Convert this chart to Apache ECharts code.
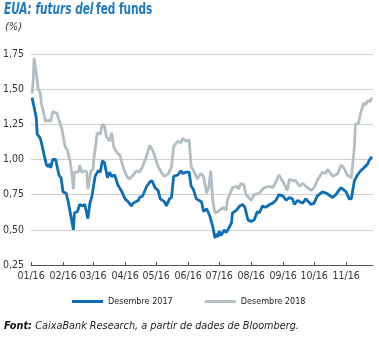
<!DOCTYPE html>
<html><head><meta charset="utf-8">
<script src="https://cdn.jsdelivr.net/npm/echarts@6/dist/echarts.min.js"></script>
<style>html,body{margin:0;padding:0;background:#fff}#c{width:379px;height:338px}</style>
</head><body><div id="c"></div>
<script>
// Month tick positions (day of year 2016) and labels
const monthDays = [0, 31, 60, 91, 121, 152, 182, 213, 244, 274, 305];
const monthLabels = ['01/16','02/16','03/16','04/16','05/16','06/16','07/16','08/16','09/16','10/16','11/16'];
const yTicks = [0.25, 0.50, 0.75, 1.00, 1.25, 1.50, 1.75];

// Desembre 2017 contract
const days2017 = [1,2,5,6,9,11,13,15,17,18,19,21,24,25,27,29,31,34,36,38,41,42,45,47,50,52,55,57,59,62,65,67,69,71,74,76,78,81,84,88,91,94,97,99,104,105,108,112,115,117,120,123,125,129,131,134,136,138,142,145,147,150,153,155,157,160,165,167,170,173,176,178,179,181,182,184,187,189,192,194,195,199,202,205,207,208,210,213,216,219,221,224,227,231,234,237,240,244,247,250,253,255,258,260,263,266,271,274,277,282,286,292,295,300,305,308,310,313,316,319,322,326,327,330];
const vals2017 = [1.44,1.43,1.30,1.18,1.15,1.09,1.02,0.96,0.95,0.97,0.94,1.00,1.00,0.96,0.89,0.87,0.77,0.76,0.70,0.62,0.50,0.62,0.63,0.68,0.67,0.68,0.58,0.69,0.74,0.88,0.92,0.91,0.99,0.98,0.87,0.91,0.88,0.89,0.82,0.77,0.72,0.70,0.67,0.69,0.71,0.73,0.74,0.81,0.84,0.85,0.80,0.78,0.72,0.70,0.67,0.72,0.73,0.88,0.89,0.92,0.90,0.91,0.91,0.81,0.79,0.72,0.70,0.63,0.65,0.60,0.52,0.44,0.47,0.45,0.49,0.46,0.50,0.48,0.52,0.55,0.62,0.64,0.67,0.68,0.66,0.67,0.57,0.56,0.57,0.63,0.62,0.67,0.66,0.68,0.69,0.71,0.75,0.74,0.71,0.73,0.72,0.68,0.71,0.70,0.69,0.72,0.68,0.69,0.74,0.77,0.76,0.73,0.75,0.80,0.77,0.72,0.72,0.85,0.89,0.92,0.94,0.97,0.99,1.02];

// Desembre 2018 contract
const days2018 = [1,2,3,5,7,9,10,12,14,17,19,21,25,26,28,30,33,35,38,39,41,42,46,47,49,52,54,55,58,60,61,63,64,67,69,71,73,76,78,80,83,86,89,92,95,99,102,105,108,112,115,118,120,123,126,129,133,136,138,142,145,147,150,153,155,158,161,164,167,170,172,174,176,178,181,182,186,189,190,195,199,201,203,206,208,213,216,221,224,226,231,234,237,240,244,245,248,250,253,256,260,263,266,271,274,277,282,285,287,292,297,300,303,306,310,311,313,314,317,319,320,322,324,326,328,330];
const vals2018 = [1.47,1.55,1.72,1.62,1.50,1.47,1.40,1.34,1.27,1.28,1.27,1.34,1.33,1.32,1.26,1.21,1.09,1.07,0.98,0.93,0.79,0.91,0.91,0.96,0.91,0.92,0.91,0.79,0.92,0.93,1.02,1.12,1.19,1.18,1.25,1.24,1.16,1.13,1.19,1.09,1.05,1.03,0.95,0.89,0.86,0.89,0.92,0.91,0.95,1.03,1.10,1.06,1.02,0.95,0.91,0.88,0.90,0.95,1.09,1.13,1.12,1.15,1.13,1.14,0.95,0.91,0.86,0.90,0.88,0.76,0.80,0.92,0.70,0.62,0.63,0.64,0.66,0.64,0.71,0.80,0.81,0.79,0.83,0.82,0.75,0.71,0.75,0.76,0.79,0.80,0.81,0.80,0.84,0.89,0.84,0.85,0.78,0.86,0.85,0.85,0.81,0.83,0.81,0.78,0.80,0.85,0.91,0.90,0.93,0.88,0.90,0.96,0.94,0.89,0.87,0.88,1.09,1.25,1.26,1.33,1.32,1.40,1.39,1.42,1.41,1.44];

const seriesNames = ['Desembre 2017', 'Desembre 2018'];
const BLUE = '#0c6fb6', GRAY = '#b3bec3';
const FONT = '"Liberation Sans Narrow", "DejaVu Sans Condensed", "Noto Sans", sans-serif';

const pairs = (d, v) => d.map((x, i) => [x, v[i]]);
const chart = echarts.init(document.getElementById('c'), null, {renderer: 'canvas'});
chart.setOption({
  animation: false,
  textStyle: {fontFamily: FONT},
  grid: {left: 31, right: 6, top: 54, bottom: 73, containLabel: false},
  xAxis: {
    type: 'value', min: 0, max: 331,
    axisLine: {show: true, lineStyle: {color: '#555', width: 1}},
    axisTick: {show: true, inside: true, length: 3, customValues: monthDays, lineStyle: {color: '#555'}},
    axisLabel: {customValues: monthDays, color: '#333', fontSize: 10.5, margin: 6, fontFamily: FONT,
      formatter: v => monthLabels[monthDays.indexOf(v)] || ''},
    splitLine: {show: false}
  },
  yAxis: {
    type: 'value', min: 0.25, max: 1.75, interval: 0.25,
    axisLine: {show: false}, axisTick: {show: false},
    axisLabel: {color: '#333', fontSize: 10.5, margin: 7, fontFamily: FONT,
      formatter: v => v.toFixed(2).replace('.', ',')},
    splitLine: {lineStyle: {color: '#cfcfcf', width: 1}}
  },
  legend: {
    top: 292, left: 67, itemWidth: 31, itemHeight: 3, itemGap: 32, icon: 'rect',
    textStyle: {fontSize: 9, color: '#222', fontFamily: FONT},
    data: seriesNames
  },
  series: [
    {name: seriesNames[1], type: 'line', data: pairs(days2018, vals2018), showSymbol: false,
      lineStyle: {color: GRAY, width: 2.8}, itemStyle: {color: GRAY}, z: 2},
    {name: seriesNames[0], type: 'line', data: pairs(days2017, vals2017), showSymbol: false,
      lineStyle: {color: BLUE, width: 2.8}, itemStyle: {color: BLUE}, z: 3}
  ],
  graphic: [
    {type: 'text', x: 4, y: 3, scaleX: 0.78, scaleY: 1, style: {
      text: '{a|EUA: futurs del} {b|fed funds}',
      verticalAlign: 'top',
      rich: {
        a: {fontSize: 15, fontWeight: 'bold', fontStyle: 'italic', fill: '#1c7ac3', fontFamily: FONT},
        b: {fontSize: 15, fontWeight: 'bold', fill: '#1c7ac3', fontFamily: FONT}
      }}},
    {type: 'text', left: 5, top: 22, style: {text: '(%)', fontSize: 11, fontStyle: 'italic', fill: '#333', fontFamily: FONT}},
    {type: 'text', left: 4, top: 320, style: {
      text: '{b|Font:} {i|CaixaBank Research, a partir de dades de Bloomberg.}',
      rich: {
        b: {fontSize: 10.8, fontWeight: 'bold', fontStyle: 'italic', fill: '#111', fontFamily: FONT},
        i: {fontSize: 10.8, fontStyle: 'italic', fill: '#222', fontFamily: FONT}
      }}}
  ]
});
</script></body></html>
